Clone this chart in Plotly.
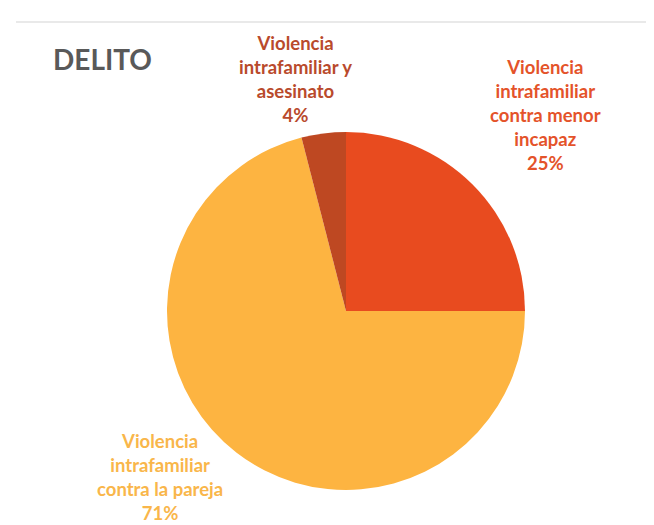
import plotly.graph_objects as go

# ---- data ----
categories = [
    "Violencia intrafamiliar contra menor incapaz",
    "Violencia intrafamiliar contra la pareja",
    "Violencia intrafamiliar y asesinato",
]
label_lines = [
    ["Violencia", "intrafamiliar", "contra menor", "incapaz"],
    ["Violencia", "intrafamiliar", "contra la pareja"],
    ["Violencia", "intrafamiliar y", "asesinato"],
]
values = [25, 71, 4]
slice_colors = ["#E84B1F", "#FDB441", "#BE4822"]
text_colors = ["#E4532A", "#F9B64A", "#B94A2C"]
title_text = "DELITO"

W, H = 654, 525
cx, cy, r = 338, 303, 179

fig = go.Figure(go.Pie(
    labels=categories,
    values=values,
    sort=False,
    direction="clockwise",
    rotation=0,
    marker=dict(colors=slice_colors, line=dict(width=0)),
    textinfo="none",
    hoverinfo="label+percent",
    showlegend=False,
    domain=dict(x=[(cx - r) / W, (cx + r) / W],
                y=[(H - cy - r) / H, (H - cy + r) / H]),
))

# label anchor positions (pixel centres of each text block)
label_pos = [(537, 107), (152, 469), (287, 71)]

annotations = []
for lines, v, col, (px, py) in zip(label_lines, values, text_colors, label_pos):
    annotations.append(dict(
        x=px / W, y=1 - py / H, xref="paper", yref="paper",
        xanchor="center", yanchor="middle", showarrow=False,
        align="center",
        text="<b>" + "<br>".join(lines + [f"{v}%"]) + "</b>",
        font=dict(family="Lato, Open Sans, sans-serif", size=18.5, color=col),
    ))

annotations.append(dict(
    x=43 / W, y=1 - 51 / H, xref="paper", yref="paper",
    xanchor="left", yanchor="middle", showarrow=False,
    text="<b>" + title_text + "</b>",
    font=dict(family="Lato, Open Sans, sans-serif", size=28, color="#595959"),
))

fig.update_layout(
    width=W, height=H,
    margin=dict(l=0, r=0, t=0, b=0),
    paper_bgcolor="white", plot_bgcolor="white",
    annotations=annotations,
    shapes=[dict(type="line", xref="paper", yref="paper",
                 x0=8 / W, x1=1, y0=1 - 14 / H, y1=1 - 14 / H,
                 line=dict(color="#E2E2E2", width=1.5))],
)

fig.write_html("out.html")
